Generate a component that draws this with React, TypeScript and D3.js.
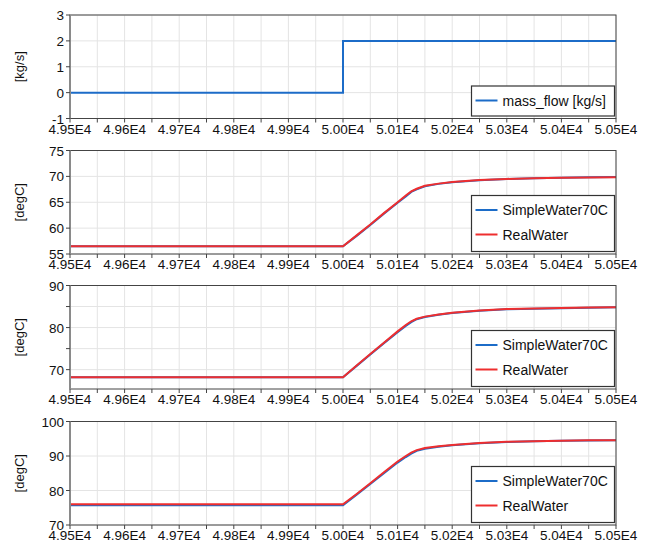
import React from "react";
import * as d3 from "d3";

// time axis (seconds)
const timeDomain = [49500, 50500];
const majorTimes = d3.range(49500, 50501, 100);
const minorTimes = d3.range(49550, 50500, 100);

const flowTimes = [49500, 50000, 50000, 50500];
const massFlow = [0, 0, 2, 2];

const times = [
  49500, 50000, 50025, 50050, 50075, 50100, 50115, 50125, 50135, 50150,
  50175, 50200, 50250, 50300, 50350, 50400, 50450, 50500,
];

const real2 = [56.5, 56.5, 58.6, 60.7, 62.9, 65.0, 66.3, 67.1, 67.6, 68.2, 68.6, 68.9, 69.3, 69.5, 69.65, 69.75, 69.8, 69.85];
const simple2 = [56.5, 56.5, 58.5, 60.6, 62.8, 64.9, 66.1, 67.0, 67.5, 68.1, 68.55, 68.85, 69.25, 69.5, 69.65, 69.75, 69.82, 69.87];

const real3 = [68.2, 68.2, 71.0, 73.7, 76.4, 79.1, 80.6, 81.5, 82.1, 82.6, 83.1, 83.5, 84.05, 84.4, 84.55, 84.65, 84.75, 84.85];
const simple3 = [68.2, 68.2, 70.9, 73.6, 76.3, 78.9, 80.4, 81.3, 82.0, 82.5, 83.05, 83.45, 84.0, 84.35, 84.5, 84.62, 84.72, 84.82];

const real4 = [76.0, 76.0, 79.0, 82.1, 85.3, 88.4, 90.0, 91.0, 91.7, 92.3, 92.8, 93.2, 93.75, 94.1, 94.3, 94.45, 94.55, 94.6];
const simple4 = [75.7, 75.7, 78.8, 81.9, 85.0, 88.1, 89.7, 90.7, 91.5, 92.1, 92.7, 93.1, 93.7, 94.05, 94.25, 94.4, 94.5, 94.6];

const BLUE = "rgb(28,108,200)";
const RED = "rgb(238,46,47)";
const FONT = "'Liberation Sans', Arial, sans-serif";

interface Series {
  name: string;
  color: string;
  t: number[];
  v: number[];
}

interface PanelDef {
  top: number;
  unit: string;
  domain: [number, number];
  ticks: number[];
  minor: number[];
  series: Series[];
  legendH: number;
}

const panels: PanelDef[] = [
  {
    top: 15, unit: "[kg/s]", domain: [-1, 3], ticks: [-1, 0, 1, 2, 3], minor: [],
    series: [{ name: "mass_flow [kg/s]", color: BLUE, t: flowTimes, v: massFlow }],
    legendH: 30,
  },
  {
    top: 150.5, unit: "[degC]", domain: [55, 75], ticks: [55, 60, 65, 70, 75], minor: [],
    series: [
      { name: "SimpleWater70C", color: BLUE, t: times, v: simple2 },
      { name: "RealWater", color: RED, t: times, v: real2 },
    ],
    legendH: 56,
  },
  {
    top: 285.5, unit: "[degC]", domain: [65.4, 90], ticks: [70, 80, 90], minor: [75, 85],
    series: [
      { name: "SimpleWater70C", color: BLUE, t: times, v: simple3 },
      { name: "RealWater", color: RED, t: times, v: real3 },
    ],
    legendH: 56,
  },
  {
    top: 421.5, unit: "[degC]", domain: [70, 100], ticks: [70, 80, 90, 100], minor: [],
    series: [
      { name: "SimpleWater70C", color: BLUE, t: times, v: simple4 },
      { name: "RealWater", color: RED, t: times, v: real4 },
    ],
    legendH: 56,
  },
];

const left = 70;
const right = 616;
const plotH = 103.5;

const x = d3.scaleLinear().domain(timeDomain).range([left, right]);

const Panel: React.FC<{ p: PanelDef }> = ({ p }) => {
  const bottom = p.top + plotH;
  const y = d3.scaleLinear().domain(p.domain).range([bottom, p.top]);
  const line = d3.line<number>();
  const lw = 143;
  const lx = right - 1.5 - lw;
  const ly = bottom - 2.5 - p.legendH;
  return (
    <g>
      {/* grid */}
      {[...majorTimes, ...minorTimes].map(t => (
        <line key={"gx" + t} x1={x(t)} x2={x(t)} y1={p.top} y2={bottom} stroke="#e4e4e4" strokeWidth={1} />
      ))}
      {[...p.ticks, ...p.minor].map(v => (
        <line key={"gy" + v} x1={left} x2={right} y1={y(v)} y2={y(v)} stroke="#e4e4e4" strokeWidth={1} />
      ))}
      {/* series */}
      {p.series.map(s => (
        <path
          key={s.name}
          d={line(s.t.map((t, i) => [x(t), y(s.v[i])]) as any) || ""}
          fill="none"
          stroke={s.color}
          strokeWidth={2}
        />
      ))}
      {/* frame */}
      <rect x={left} y={p.top} width={right - left} height={plotH} fill="none" stroke="#444" strokeWidth={1} />
      <line x1={left} x2={left} y1={p.top} y2={bottom} stroke="#8a8a8a" strokeWidth={2} />
      {/* x ticks */}
      {majorTimes.map(t => (
        <g key={"xt" + t}>
          <line x1={x(t)} x2={x(t)} y1={bottom} y2={bottom + 4} stroke="#444" />
          <text x={x(t)} y={bottom + 15} textAnchor="middle" fontSize={13.5} fontFamily={FONT} fill="#111">
            {(t / 1e4).toFixed(2) + "E4"}
          </text>
        </g>
      ))}
      {minorTimes.map(t => (
        <line key={"xm" + t} x1={x(t)} x2={x(t)} y1={bottom} y2={bottom + 4} stroke="#444" />
      ))}
      {/* y ticks */}
      {p.ticks.map(v => (
        <g key={"yt" + v}>
          <line x1={left - 4} x2={left} y1={y(v)} y2={y(v)} stroke="#444" />
          <text x={left - 6} y={y(v) + 5} textAnchor="end" fontSize={13.5} fontFamily={FONT} fill="#111">
            {v}
          </text>
        </g>
      ))}
      {p.minor.map(v => (
        <line key={"ym" + v} x1={left - 4} x2={left} y1={y(v)} y2={y(v)} stroke="#444" />
      ))}
      <text
        transform={`translate(24,${p.top + plotH / 2}) rotate(-90)`}
        textAnchor="middle"
        fontSize={13}
        fontFamily={FONT}
        fill="#111"
      >
        {p.unit}
      </text>
      {/* legend */}
      <rect x={lx} y={ly} width={lw} height={p.legendH} fill="#fff" stroke="#333" strokeWidth={1.2} />
      {p.series.map((s, i) => {
        const cy = ly + 14.5 + i * 24.5;
        return (
          <g key={"lg" + s.name}>
            <line x1={lx + 4} x2={lx + 26} y1={cy} y2={cy} stroke={s.color} strokeWidth={2} />
            <text x={lx + 31} y={cy + 5} fontSize={14} fontFamily={FONT} fill="#111">
              {s.name}
            </text>
          </g>
        );
      })}
    </g>
  );
};

export default function App() {
  return (
    <svg
      width={646}
      height={546}
      style={{ position: "absolute", left: 0, top: 0, background: "#fff" }}
    >
      {panels.map((p, i) => (
        <Panel key={i} p={p} />
      ))}
    </svg>
  );
}
